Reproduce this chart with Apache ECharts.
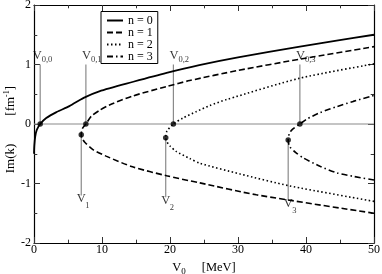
<!DOCTYPE html>
<html><head><meta charset="utf-8">
<script src="https://cdn.jsdelivr.net/npm/echarts@6/dist/echarts.min.js"></script>
<style>html,body{margin:0;padding:0;background:#fff}#c{width:382px;height:274px}</style>
</head><body><div id="c"></div>
<script>
// ---- data ----
const seriesNames = ['n = 0', 'n = 1', 'n = 2', 'n = 3'];
const curveN0 = [[0,-0.50],[0.05,-0.36],[0.18,-0.21],[0.41,-0.10],[0.91,0],[1.8,0.10],[3.3,0.20],[5.2,0.30],[7.3,0.44],[9.6,0.55],[14.6,0.71],[19.5,0.86],[24.3,0.99],[30,1.12],[39.1,1.30],[44.5,1.40],[50,1.50]];
const curveN1 = [[50,-1.50],[32.7,-1.19],[24.4,-0.99],[19.5,-0.87],[14.5,-0.72],[10.6,-0.54],[8.66,-0.43],[7.5,-0.31],[7.05,-0.24],[6.95,-0.18],[7.1,-0.08],[7.63,0],[8.42,0.13],[9.65,0.23],[11.1,0.32],[14.5,0.47],[19.5,0.63],[22.9,0.73],[30,0.90],[39.1,1.09],[50,1.30]];
const curveN2 = [[50,-1.30],[37.6,-1.04],[30.3,-0.84],[24.4,-0.66],[22.9,-0.58],[20.9,-0.46],[20.0,-0.37],[19.55,-0.30],[19.37,-0.23],[19.55,-0.12],[20.5,0],[21.9,0.10],[23.9,0.21],[25.85,0.31],[28.3,0.41],[39.1,0.77],[50,1.01]];
const curveN3 = [[50,-0.94],[46.95,-0.88],[44.5,-0.82],[42.05,-0.71],[39.6,-0.57],[38.5,-0.48],[37.6,-0.38],[37.38,-0.27],[37.55,-0.16],[38.0,-0.09],[39.1,0],[40.1,0.08],[42.05,0.19],[44.5,0.29],[46.95,0.38],[50,0.48]];
const zeroV = [0.91, 7.63, 20.5, 39.1];          // V_{0,n}: Im(k) = 0
const zeroLabels = ['0,0', '0,1', '0,2', '0,3'];
const guideTop = 1.0;
const branchV = [6.95, 19.37, 37.38];            // V_n branch points
const branchIm = [-0.18, -0.23, -0.27];
const branchLabels = ['1', '2', '3'];
const guideBottom = [-1.20, -1.23, -1.28];
const xTicks = [0, 10, 20, 30, 40, 50];
const yTicks = [-2, -1, 0, 1, 2];

// ---- chart ----
const FONT = 'Liberation Serif';
const GRAY = '#8a8a8a';
const chart = echarts.init(document.getElementById('c'), null, {renderer: 'canvas'});

const curveStyles = [
  {type: 'solid', width: 1.8},
  {type: [6, 3], width: 1.6},
  {type: [1.5, 2.5], width: 1.6},
  {type: [6, 3, 1.5, 3], width: 1.6}
];
const curves = [curveN0, curveN1, curveN2, curveN3];

const series = [];
series.push({type: 'line', data: [[xTicks[0], 0], [xTicks[xTicks.length - 1], 0]], symbol: 'none',
  lineStyle: {color: GRAY, width: 1.2}, silent: true, z: 1});
zeroV.forEach(v => series.push({type: 'line', data: [[v, 0], [v, guideTop]], symbol: 'none',
  lineStyle: {color: GRAY, width: 1.2}, silent: true, z: 1}));
branchV.forEach((v, i) => series.push({type: 'line', data: [[v, branchIm[i]], [v, guideBottom[i]]], symbol: 'none',
  lineStyle: {color: GRAY, width: 1.2}, silent: true, z: 1}));
curves.forEach((c, i) => series.push({name: seriesNames[i], type: 'line', data: c, symbol: 'none',
  smooth: 0.25, lineStyle: Object.assign({color: '#000'}, curveStyles[i]), itemStyle: {color: '#000'}, z: 3}));
const dots = zeroV.map(v => [v, 0]).concat(branchV.map((v, i) => [v, branchIm[i]]));
series.push({type: 'scatter', data: dots, symbol: 'circle', symbolSize: 5.5, itemStyle: {color: '#000'}, z: 5, silent: true});

// labels: "V" and its subscript as separate text labels anchored at the guide-line ends
const vStyle = {show: true, fontFamily: FONT, fontSize: 12.5, lineHeight: 12.5, color: '#000'};
const sStyle = {show: true, fontFamily: FONT, fontSize: 8.5, lineHeight: 8.5, color: '#000'};
const hidden = {symbolSize: 1, itemStyle: {color: 'rgba(0,0,0,0)'}, silent: true, z: 6};
series.push(Object.assign({type: 'scatter',
  data: zeroV.map((v, i) => ({value: [v, guideTop], label: {position: [i === 0 ? -7 : -3.5, -14.8]}})),
  label: Object.assign({formatter: 'V'}, vStyle)}, hidden));
series.push(Object.assign({type: 'scatter',
  data: zeroV.map((v, i) => ({value: [v, guideTop], name: zeroLabels[i], label: {position: [i === 0 ? 2 : 5.5, -8.6]}})),
  label: Object.assign({formatter: p => p.name}, sStyle)}, hidden));
series.push(Object.assign({type: 'scatter',
  data: branchV.map((v, i) => ({value: [v, guideBottom[i]]})),
  label: Object.assign({formatter: 'V', position: [-4, -2.5]}, vStyle)}, hidden));
series.push(Object.assign({type: 'scatter',
  data: branchV.map((v, i) => ({value: [v, guideBottom[i]], name: branchLabels[i]})),
  label: Object.assign({formatter: p => p.name, position: [4.5, 6.7]}, sStyle)}, hidden));

const axisCommon = {
  axisLine: {show: true, onZero: false, lineStyle: {color: '#000', width: 1.2}},
  axisTick: {show: true, inside: true, length: 6, lineStyle: {color: '#333', width: 1}},
  minorTick: {show: true, splitNumber: 2, length: 3.3, lineStyle: {color: '#333', width: 1}},
  splitLine: {show: false}, minorSplitLine: {show: false}
};

// y-axis title, rotated: "Im(k)   [fm^-1]"
const titleText = (text, x, y, size) => ({type: 'text', x: x, y: y, rotation: Math.PI / 2, silent: true,
  style: {text: text, fontFamily: FONT, fontSize: size, fill: '#000', align: 'center', verticalAlign: 'middle'}});

const option = {
  animation: false,
  backgroundColor: '#fff',
  textStyle: {fontFamily: FONT},
  grid: {left: 34, right: 8, top: 5, bottom: 31, containLabel: false, outerBoundsMode: 'none'},
  legend: {
    data: seriesNames, orient: 'vertical', left: 101, top: 11.5,
    padding: [3, 5, 1, 5], itemGap: 0, itemWidth: 16, itemHeight: 12,
    borderColor: '#000', borderWidth: 1, borderRadius: 0, backgroundColor: '#fff',
    selectedMode: false,
    itemStyle: {opacity: 0},
    textStyle: {fontFamily: FONT, fontSize: 12, color: '#000', lineHeight: 12}
  },
  graphic: [
    titleText('Im(k)', 11, 158.5, 13),
    titleText('[fm', 11, 106.3, 13),
    titleText('-1', 7, 93.6, 8),
    titleText(']', 11, 88.1, 13)
  ],
  xAxis: [
    Object.assign({}, axisCommon, {type: 'value', min: xTicks[0], max: xTicks[xTicks.length - 1], interval: 10, position: 'bottom',
      axisLabel: {margin: 1, fontSize: 12, color: '#000', fontFamily: FONT},
      name: '{v|V}{s|0}{b|[MeV]}', nameLocation: 'middle', nameGap: 9,
      nameTextStyle: {rich: {
        v: {fontFamily: FONT, fontSize: 12.5, lineHeight: 12.5, verticalAlign: 'top', color: '#000'},
        s: {fontFamily: FONT, fontSize: 9, lineHeight: 9, verticalAlign: 'top', color: '#000', padding: [6, 0, 0, 0]},
        b: {fontFamily: FONT, fontSize: 12.5, lineHeight: 12.5, verticalAlign: 'top', color: '#000', padding: [0, 0, 0, 16]}
      }}}),
    Object.assign({}, axisCommon, {type: 'value', min: xTicks[0], max: xTicks[xTicks.length - 1], interval: 10, position: 'top',
      axisLabel: {show: false}})
  ],
  yAxis: [
    Object.assign({}, axisCommon, {type: 'value', min: yTicks[0], max: yTicks[yTicks.length - 1], interval: 1, position: 'left',
      axisLabel: {margin: 3, fontSize: 12, color: '#000', fontFamily: FONT}}),
    Object.assign({}, axisCommon, {type: 'value', min: yTicks[0], max: yTicks[yTicks.length - 1], interval: 1, position: 'right',
      axisLabel: {show: false}})
  ],
  series: series
};
chart.setOption(option);
</script>
</body></html>
